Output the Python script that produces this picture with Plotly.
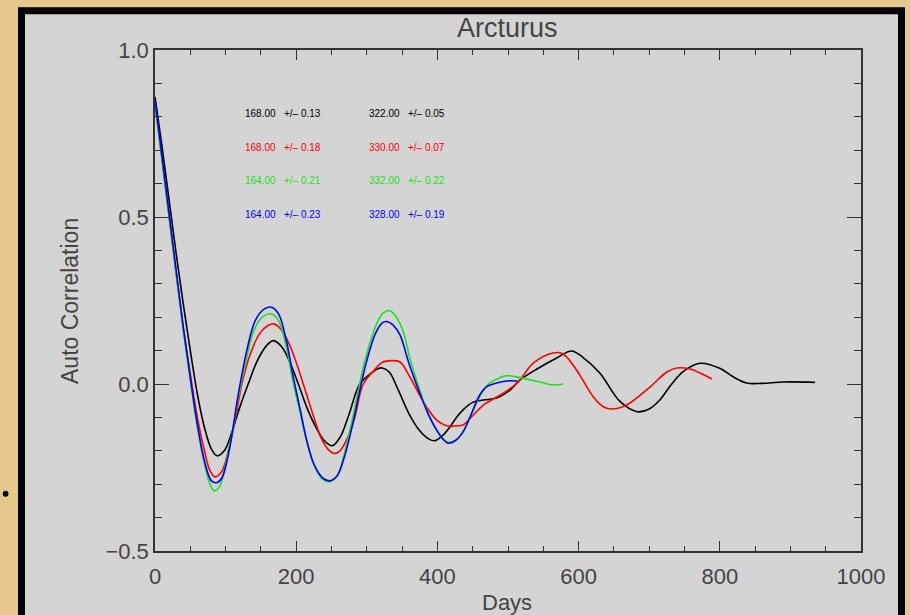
import plotly.graph_objects as go

# ---------------- data ----------------
days_black = [0, 10, 20, 30, 40, 50, 60, 70, 80, 88, 98, 108, 120, 132, 145, 158, 168, 180, 190, 203,
              215, 228, 240, 251, 262, 275, 290, 305, 315, 322, 332, 345, 360, 375, 388, 396, 408, 418,
              427, 436, 450, 465, 484, 503, 517, 541, 569, 590, 606, 630, 659, 683, 700, 715, 730, 748,
              772, 800, 820, 838, 860, 890, 935]
acf_black = [0.86, 0.71, 0.55, 0.39, 0.24, 0.10, -0.03, -0.13, -0.195, -0.215, -0.20, -0.15, -0.07, 0.0,
             0.07, 0.115, 0.13, 0.11, 0.07, 0.0, -0.07, -0.13, -0.17, -0.185, -0.16, -0.09, 0.0, 0.03,
             0.045, 0.048, 0.035, -0.02, -0.09, -0.14, -0.165, -0.17, -0.153, -0.128, -0.10, -0.078,
             -0.055, -0.048, -0.042, -0.018, 0.012, 0.045, 0.078, 0.099, 0.08, 0.033, -0.053, -0.083,
             -0.075, -0.048, -0.005, 0.037, 0.062, 0.047, 0.02, 0.003, 0.002, 0.006, 0.005]

days_red = [0, 10, 20, 30, 40, 50, 60, 70, 78, 85, 95, 105, 115, 123, 135, 148, 160, 168, 178, 190, 200,
            210, 222, 235, 245, 254, 262, 272, 283, 295, 310, 322, 335, 347, 360, 371, 385, 399, 413, 427,
            436, 450, 465, 489, 513, 536, 564, 578, 597, 621, 635, 647, 668, 701, 725, 739, 758, 775, 789]
acf_red = [0.84, 0.67, 0.50, 0.33, 0.17, 0.03, -0.10, -0.20, -0.26, -0.278, -0.26, -0.19, -0.09, 0.0,
           0.09, 0.15, 0.175, 0.18, 0.165, 0.12, 0.065, 0.0, -0.08, -0.16, -0.195, -0.208, -0.20, -0.165,
           -0.10, 0.0, 0.04, 0.065, 0.07, 0.066, 0.025, -0.018, -0.07, -0.108, -0.125, -0.125, -0.123,
           -0.095, -0.063, -0.033, 0.003, 0.063, 0.093, 0.09, 0.042, -0.039, -0.068, -0.075, -0.063,
           -0.009, 0.036, 0.048, 0.045, 0.03, 0.015]

days_green = [0, 10, 20, 30, 40, 50, 60, 70, 78, 84, 92, 100, 110, 118, 128, 140, 152, 165, 175, 185, 196,
              205, 215, 225, 237, 248, 258, 268, 278, 288, 295, 304, 315, 323, 332, 342, 351, 362, 375, 387,
              399, 408, 415, 425, 436, 450, 465, 474, 489, 498, 517, 545, 564, 578]
acf_green = [0.84, 0.67, 0.50, 0.33, 0.16, 0.01, -0.13, -0.24, -0.30, -0.32, -0.305, -0.24, -0.14, -0.04,
             0.06, 0.16, 0.20, 0.21, 0.19, 0.12, 0.0, -0.08, -0.17, -0.24, -0.285, -0.292, -0.275, -0.21,
             -0.12, -0.02, 0.05, 0.12, 0.185, 0.212, 0.22, 0.20, 0.16, 0.07, -0.018, -0.09, -0.138, -0.165,
             -0.174, -0.17, -0.147, -0.08, -0.018, 0.003, 0.019, 0.025, 0.019, 0.006, -0.003, 0.0]

days_blue = [0, 10, 20, 30, 40, 50, 60, 70, 80, 88, 95, 105, 118, 130, 142, 155, 165, 175, 185, 196, 205,
             215, 225, 237, 248, 258, 268, 280, 290, 300, 312, 322, 328, 338, 347, 360, 375, 387, 399, 408,
             415, 425, 436, 448, 460, 470, 484, 498, 513]
acf_blue = [0.85, 0.68, 0.51, 0.34, 0.17, 0.02, -0.12, -0.23, -0.29, -0.295, -0.28, -0.20, -0.03, 0.10,
            0.19, 0.225, 0.23, 0.21, 0.14, 0.02, -0.07, -0.17, -0.24, -0.28, -0.29, -0.275, -0.22, -0.12,
            -0.02, 0.07, 0.15, 0.183, 0.187, 0.175, 0.147, 0.06, -0.027, -0.09, -0.138, -0.165, -0.177,
            -0.17, -0.144, -0.09, -0.033, -0.008, 0.003, 0.009, 0.009]

period1 = ["168.00", "168.00", "164.00", "164.00"]
err1 = ["0.13", "0.18", "0.21", "0.23"]
period2 = ["322.00", "330.00", "332.00", "328.00"]
err2 = ["0.05", "0.07", "0.22", "0.19"]

x_ticks = [0, 200, 400, 600, 800, 1000]
y_ticks = [-0.5, 0.0, 0.5, 1.0]

# ---------------- style ----------------
colors = ["#000000", "#ff0000", "#1ee01e", "#0000ff"]
W, H = 910, 615
PL, PR, PT, PB = 155, 861, 50, 551
FONT = "Liberation Sans"
AX = "#333333"
TXT = "#444444"


def px(x):
    return (x - PL) / (PR - PL)


def py(y):
    return (PB - y) / (PB - PT)


fig = go.Figure()
series = [(days_black, acf_black), (days_red, acf_red), (days_green, acf_green), (days_blue, acf_blue)]
for (d, v), c in zip(series, colors):
    fig.add_trace(go.Scatter(x=d, y=v, mode="lines", line=dict(color=c, width=1.6, shape="spline", smoothing=1.0),
                             showlegend=False, hoverinfo="skip"))

shapes = [
    dict(type="rect", xref="paper", yref="paper", x0=px(21.5), x1=px(901.5), y0=py(720), y1=py(10.7),
         line=dict(color="black", width=7), fillcolor="#d4d4d4", layer="below"),
    dict(type="circle", xref="paper", yref="paper", x0=px(2.7), x1=px(8.5), y0=py(496.7), y1=py(490.8),
         line=dict(width=0), fillcolor="black"),
]

ann = []
rows_y = [113, 147, 180, 214]
for i in range(4):
    for xx, txt in [(243, period1[i]), (282, "+/\u2013 " + err1[i]), (367, period2[i]), (406, "+/\u2013 " + err2[i])]:
        ann.append(dict(text=txt, x=px(xx), y=py(rows_y[i]), xref="paper", yref="paper", showarrow=False,
                        xanchor="left", yanchor="middle", font=dict(family=FONT, size=10, color=colors[i])))
ann.append(dict(text="Arcturus", x=px(507), y=py(28), xref="paper", yref="paper", showarrow=False,
                xanchor="center", yanchor="middle", font=dict(family=FONT, size=27, color=TXT)))
ann.append(dict(text="Days", x=px(507), y=py(602), xref="paper", yref="paper", showarrow=False,
                xanchor="center", yanchor="middle", font=dict(family=FONT, size=22, color=TXT)))
ann.append(dict(text="Auto Correlation", x=px(70), y=py(301), xref="paper", yref="paper", showarrow=False,
                textangle=-90, xanchor="center", yanchor="middle", font=dict(family=FONT, size=23, color=TXT)))

fig.update_layout(
    width=W, height=H,
    margin=dict(l=PL, r=W - PR, t=PT, b=H - PB, pad=0),
    paper_bgcolor="#e6c88c",
    plot_bgcolor="#d4d4d4",
    shapes=shapes,
    annotations=ann,
    xaxis=dict(range=[0, 1000], tickvals=x_ticks, ticks="inside", ticklen=10, tickwidth=1.3, tickcolor=AX,
               showline=True, linecolor=AX, linewidth=1.5, mirror="allticks", showgrid=False, zeroline=False,
               ticklabelstandoff=5,
               tickfont=dict(family=FONT, size=22, color=TXT),
               minor=dict(dtick=50, ticks="inside", ticklen=5, tickwidth=1.3, tickcolor=AX, showgrid=False)),
    yaxis=dict(range=[-0.5, 1.0], tickvals=y_ticks, tickformat=".1f", ticks="inside", ticklen=14, tickwidth=1.3,
               tickcolor=AX, showline=True, linecolor=AX, linewidth=1.5, mirror="allticks", showgrid=False,
               zeroline=False, tickfont=dict(family=FONT, size=22, color=TXT),
               minor=dict(dtick=0.1, ticks="inside", ticklen=7, tickwidth=1.3, tickcolor=AX, showgrid=False)),
)

fig.write_html("out.html")
